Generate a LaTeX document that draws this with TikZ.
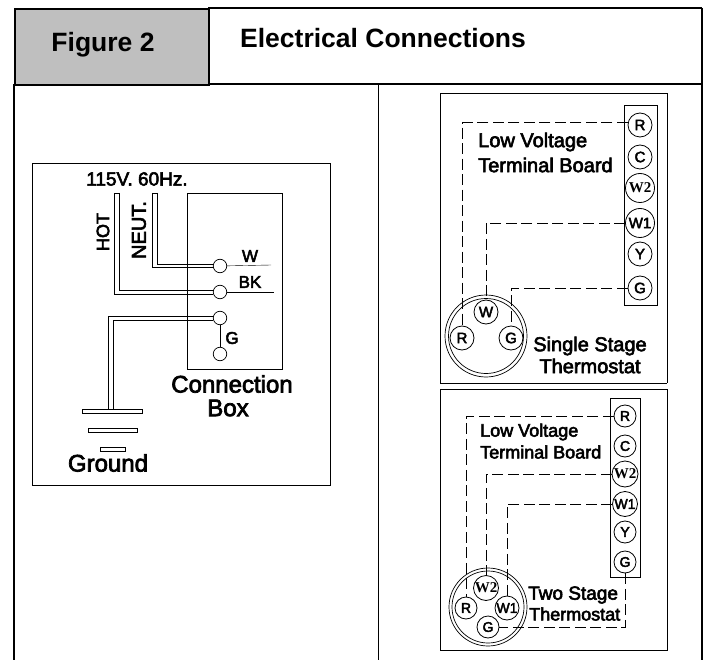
\documentclass[tikz,border=0pt]{standalone}
\usepackage{fontspec}
\setmainfont{Liberation Sans}
\newfontfamily\labelfont[FakeBold=3]{Liberation Sans}
\newfontfamily\serfont{Liberation Serif}
\usetikzlibrary{positioning}
\definecolor{headgray}{gray}{0.75}

\begin{document}
\begin{tikzpicture}[x=1pt,y=-1pt,on grid,
  term/.style={circle,draw,fill=white,line width=0.8pt,inner sep=0pt,minimum size=24pt,font=\labelfont\fontsize{15}{15}\selectfont},
  big/.style={term,minimum size=29pt},
  bigser/.style={big,font=\serfont\bfseries\fontsize{15}{15}\selectfont},
  small/.style={term,minimum size=22pt,font=\labelfont\fontsize{14}{14}\selectfont},
  lug/.style={circle,draw,fill=white,line width=0.7pt,inner sep=0pt,minimum size=13.5pt},
  label/.style={inner sep=0pt,font=\labelfont\fontsize{#1}{#1}\selectfont},
  label/.default=20,
  panel/.style={draw,line width=0.8pt},
  plate/.style={draw,line width=0.7pt,minimum height=4pt,inner sep=0pt},
  lowv/.style={draw,dash pattern=on 11pt off 4.5pt,line width=0.7pt},
  wire/.style={draw,line width=0.8pt}]
  \useasboundingbox (0,0) rectangle (706,660);

  % header
  \node[draw,line width=1.8pt,fill=headgray,minimum width=194pt,minimum height=76pt,anchor=north west] (fig) at (14,8) {};
  \node[font=\bfseries\fontsize{26.5}{26.5}\selectfont] (figlab) at (103,45) {Figure 2};
  \node[font=\bfseries\fontsize{26.5}{26.5}\selectfont,anchor=west,inner sep=0pt] (title) at (240,38) {Electrical Connections};
  \draw[line width=1.4pt] (208,8) -- (702,8);
  \draw[line width=1.6pt] (208,84) -- (702,84);
  \draw[line width=1.6pt] (14,84) -- (14,660);
  \draw[line width=1.6pt] (702,8) -- (702,660);
  \draw[line width=0.7pt] (378,84) -- (378,660);

  % left panel
  \draw[panel] (32,163) rectangle (330,485);
  \node[draw,line width=0.7pt,minimum width=95pt,minimum height=176pt,anchor=north west] (cbox) at (187,193) {};
  \coordinate (wend) at (271,265);
  \coordinate (bkend) at (274,292);
  \coordinate (neut) at (154.5,193);
  \coordinate (hot) at (117,193);
  \coordinate (gnd) at (111,409);
  \node[lug] (lw) at (220,266) {};
  \node[lug] (lb) at (220,292) {};
  \node[lug] (lg) at (220,318) {};
  \node[lug] (lgb) at (220,354) {};
  \draw (lw) -- (wend);
  \draw (lb) -- (bkend);
  \draw[line width=0.7pt] (lg) -- (lgb);
  \path[wire] ([xshift=-2.4pt]neut) |- ([yshift=-1.5pt]lw.west);
  \path[wire] ([xshift=2.4pt]neut) |- ([yshift=1.5pt]lw.west);
  \path[wire] ([xshift=-2.2pt]hot) |- ([yshift=-2pt]lb.west);
  \path[wire] ([xshift=2.2pt]hot) |- ([yshift=1.5pt]lb.west);
  \path[wire] ([xshift=-2.2pt]gnd) |- ([yshift=1.5pt]lg.west);
  \path[wire] ([xshift=2.2pt]gnd) |- ([yshift=-2.5pt]lg.west);
  \draw ([xshift=-2.4pt]neut) -- ([xshift=2.4pt]neut);
  \draw ([xshift=-2.2pt]hot) -- ([xshift=2.2pt]hot);
  \node[plate,minimum width=60pt] (plate1) at (112,411) {};
  \node[plate,minimum width=49pt] (plate2) at (112.5,430) {};
  \node[plate,minimum width=25pt] (plate3) at (112.5,449.5) {};
  \node[label=19] (volt) at (137,179) {115V. 60Hz.};
  \node[label=18,rotate=90] (hotlab) at (103,232) {HOT};
  \node[label=20,rotate=90] (neutlab) at (139,230) {NEUT.};
  \node[label=17] (wlab) at (250,256) {W};
  \node[label=17] (bklab) at (250,282) {BK};
  \node[label=17] (glab) at (232,338) {G};
  \node[label=24] (conn) at (232,384) {Connection};
  \node[label=24] (boxlab) at (228,408) {Box};
  \node[label=24] (grnd) at (108,463) {Ground};

  % right panel, single stage
  \draw[panel] (440,383) -- (440,93) -- (667,93) -- (667,383);
  \draw[panel] (440,383) -- (667,383);
  \node[draw,line width=0.8pt,minimum width=33pt,minimum height=200pt,anchor=north west] (strip) at (624,105) {};
  \node[term] (r1) at (640,125) {R};
  \node[term] (c1) [below=32pt of r1] {C};
  \node[bigser] (wb1) [below=31pt of c1] {W2};
  \node[big] (wa1) [below=35pt of wb1] {W1};
  \node[term] (y1) [below=31pt of wa1] {Y};
  \node[term] (g1) [below=34pt of y1] {G};
  \node[circle,draw,line width=0.7pt,minimum size=82pt,inner sep=0pt] (stat1) at (486,336) {};
  \node[circle,draw,line width=0.7pt,minimum size=75pt,inner sep=0pt] (stat1b) at (stat1) {};
  \node[term] (sw) at (486,312) {W};
  \node[term] (sr) at (462,338) {R};
  \node[term] (sg) at (511,338) {G};
  \path[lowv] (r1.170) -| (sr);
  \path[lowv] (wa1) -| (sw);
  \path[lowv] (g1) -| (sg);
  \node[label,anchor=west] (low1) at (478,142) {Low Voltage};
  \node[label,anchor=west] (board1) at (478,165) {Terminal Board};
  \node[label] (one1) at (590,346) {Single Stage};
  \node[label] (one2) at (590,366) {Thermostat};

  % right panel, two stage
  \draw[panel] (440,389) -- (667,389) -- (667,650) -- (440,650) -- cycle;
  \node[draw,line width=0.8pt,minimum width=30pt,minimum height=179pt,anchor=north west] (stripb) at (610,398) {};
  \node[small] (r2) at (625,416) {R};
  \node[small] (c2) [below=30pt of r2] {C};
  \node[bigser,minimum size=26pt] (wb2) [below=28pt of c2] {W2};
  \node[small,minimum size=25pt] (wa2) [below=30pt of wb2] {W1};
  \node[small] (y2) [below=28pt of wa2] {Y};
  \node[small] (g2) [below=30pt of y2] {G};
  \node[circle,draw,line width=0.7pt,minimum size=78pt,inner sep=0pt] (stat2) at (488,607) {};
  \node[circle,draw,line width=0.7pt,minimum size=72pt,inner sep=0pt] (stat2b) at (stat2) {};
  \node[bigser,minimum size=25pt] (tw2) at (486,588) {W2};
  \node[small] (tr) at (466,608) {R};
  \node[small,minimum size=24pt] (tw1) at (507,608) {W1};
  \node[small] (tg) at (488,627) {G};
  \path[lowv] (r2) -| (tr);
  \path[lowv] (wb2) -| (tw2);
  \path[lowv] (wa2) -| (tw1);
  \path[lowv] (g2) |- (tg);
  \node[label=18,anchor=west] (low2) at (480,432) {Low Voltage};
  \node[label=18,anchor=west] (board2) at (480,452) {Terminal Board};
  \node[label=19,anchor=west] (two1) at (528,595) {Two Stage};
  \node[label=18,anchor=west] (two2) at (529,614) {Thermostat};
\end{tikzpicture}
\end{document}
